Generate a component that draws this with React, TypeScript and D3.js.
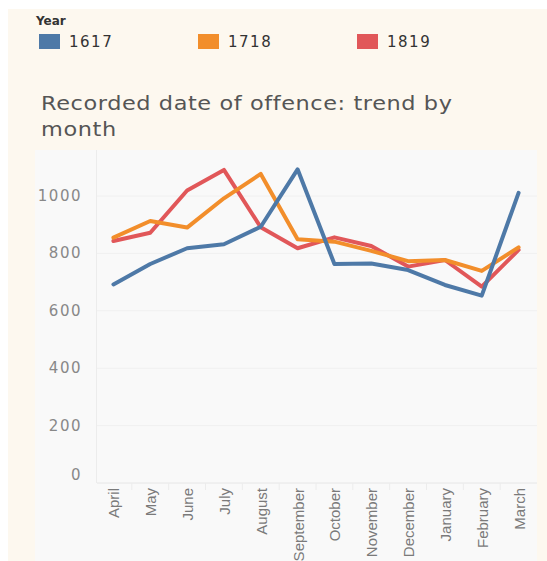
import React from 'react';
import * as d3 from 'd3';

const months = ['April', 'May', 'June', 'July', 'August', 'September', 'October', 'November', 'December', 'January', 'February', 'March'];
const years = ['1617', '1718', '1819'];
const colors = ['#4e79a7', '#f28e2b', '#e15759'];

const values1617 = [692, 763, 818, 832, 893, 1093, 763, 765, 742, 690, 653, 1011];
const values1718 = [855, 913, 890, 992, 1077, 849, 841, 809, 773, 777, 739, 821];
const values1819 = [843, 872, 1019, 1091, 891, 818, 856, 826, 754, 777, 684, 812];

const yTicks = [0, 200, 400, 600, 800, 1000];

const W = 547;
const H = 561;

const App = () => {
  const x = d3.scaleBand().domain(months).range([95, 537]);
  const y = d3.scaleLinear().domain([0, 1000]).range([483, 196]);

  const line = d3.line<number>()
    .x((d, i) => x(months[i])! + x.bandwidth() / 2)
    .y(d => y(d));

  const series = [values1617, values1718, values1819];
  // draw red first, blue last so blue sits on top
  const drawOrder = [2, 1, 0];

  return (
    <svg width={W} height={H} style={{ position: 'absolute', left: 0, top: 0 }}>
      <rect x={0} y={0} width={W} height={H} fill="#ffffff" />
      <rect x={8} y={9} width={W - 8} height={H - 9} fill="#fdf8ef" />
      <rect x={35} y={150} width={502} height={H - 150} fill="#f9f9f9" />

      {/* legend */}
      <text x={36} y={25} fontFamily="DejaVu Sans" fontWeight="bold" fontSize={12} fill="#333">Year</text>
      {years.map((yr, i) => (
        <g key={yr} transform={`translate(${39 + i * 159},34)`}>
          <rect width={21} height={15} fill={colors[i]} />
          <text x={30} y={13} fontFamily="DejaVu Sans" fontSize={15} letterSpacing={1.5} fill="#333">{yr}</text>
        </g>
      ))}

      {/* title, stretched a little to match the wide original face */}
      <text transform="translate(41,0) scale(1.18,1)" fontFamily="DejaVu Sans" fontSize={19} letterSpacing={0.5} fill="#555">
        <tspan x={0} y={110}>Recorded date of offence: trend by</tspan>
        <tspan x={0} y={136}>month</tspan>
      </text>

      {/* grid */}
      {yTicks.map(t => (
        <g key={t}>
          <line x1={97} x2={537} y1={y(t)} y2={y(t)} stroke={t === 0 ? '#e6e6e6' : '#f0f0f0'} />
          <text x={82} y={t === 0 ? y(t) - 3 : y(t) + 5} textAnchor="end" fontFamily="DejaVu Sans" fontSize={15} letterSpacing={1.5} fill="#888">{t}</text>
        </g>
      ))}
      <line x1={96.5} x2={96.5} y1={150} y2={483} stroke="#ececec" />
      {months.slice(1).map(m => (
        <line key={m} x1={x(m)} x2={x(m)} y1={483} y2={490} stroke="#ececec" />
      ))}

      {/* x labels */}
      {months.map(m => (
        <text key={m} transform={`translate(${x(m)! + x.bandwidth() / 2 + 6},488) rotate(-90)`} textAnchor="end" fontFamily="Liberation Sans" fontSize={15} fill="#7a7a7a">{m}</text>
      ))}

      {/* lines */}
      {drawOrder.map(i => (
        <path key={years[i]} d={line(series[i])!} fill="none" stroke={colors[i]} strokeWidth={4} strokeLinejoin="round" strokeLinecap="round" />
      ))}
    </svg>
  );
};

export default App;
